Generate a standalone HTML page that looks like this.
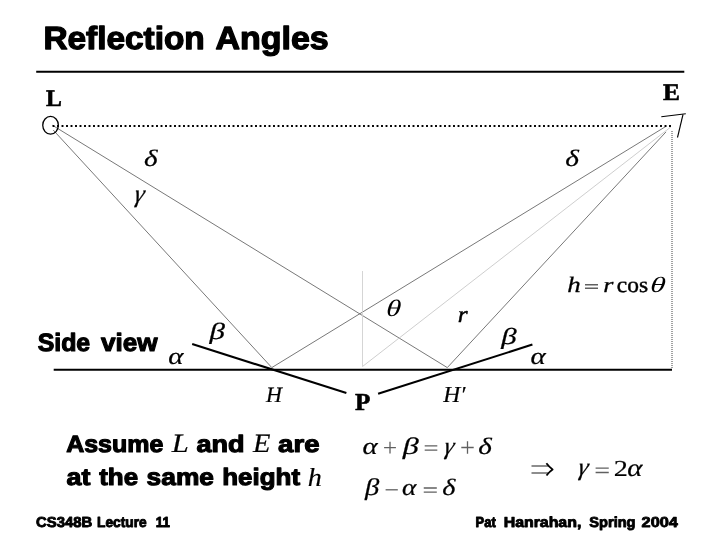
<!DOCTYPE html>
<html>
<head>
<meta charset="utf-8">
<title>Reflection Angles</title>
<style>
html,body{margin:0;padding:0;background:#fff;}
body{width:720px;height:540px;overflow:hidden;position:relative;font-family:"Liberation Sans",sans-serif;}
svg{position:absolute;left:0;top:0;display:block;filter:grayscale(1);}
text{white-space:pre;text-rendering:geometricPrecision;}
</style>
</head>
<body>
<svg width="720" height="540" viewBox="0 0 720 540">
<rect width="720" height="540" fill="#fff"/>

<!-- title -->
<text font-family="'Liberation Sans', sans-serif" font-weight="bold" font-size="100" fill="#000" stroke="#000" stroke-width="3.977" stroke-linejoin="round" transform="translate(43.42 49.35) scale(0.3337 0.3200)">Reflection</text>
<text font-family="'Liberation Sans', sans-serif" font-weight="bold" font-size="100" fill="#000" stroke="#000" stroke-width="3.941" stroke-linejoin="round" transform="translate(215.50 49.35) scale(0.3397 0.3200)">Angles</text>
<line x1="36.2" y1="71.7" x2="684.3" y2="71.7" stroke="#000" stroke-width="2"/>

<!-- thin construction lines -->
<g stroke="#606060" stroke-width="0.85" fill="none">
<line x1="53.2" y1="130" x2="271.8" y2="367.6"/>
<line x1="52.5" y1="125.3" x2="447.3" y2="367.6"/>
<line x1="666.4" y1="126.1" x2="271.8" y2="367.6"/>
<line x1="666" y1="131.9" x2="447.3" y2="367.6"/>
</g>
<g stroke="#c8c8c8" stroke-width="0.9" fill="none">
<line x1="362.5" y1="271" x2="362.5" y2="366.5" stroke="#d0d0d0"/>
<line x1="670.9" y1="126.9" x2="362.5" y2="366.5"/>
</g>

<!-- dotted lines -->
<line x1="52.55" y1="126" x2="671.2" y2="126" stroke="#000" stroke-width="1.9" stroke-dasharray="1.9 2.6"/>
<line x1="672" y1="131" x2="672" y2="369" stroke="#8a8a8a" stroke-width="1.6" stroke-dasharray="1 1"/>

<!-- light circle and eye -->
<ellipse cx="50.55" cy="125.3" rx="7.8" ry="8.85" fill="none" stroke="#000" stroke-width="1.3"/>
<g stroke="#000" stroke-width="1.1" fill="none">
<line x1="661.3" y1="116.7" x2="685.8" y2="113.8"/>
<line x1="683" y1="114.5" x2="677.5" y2="137.5"/>
</g>

<!-- base and mirror lines -->
<g stroke="#000" stroke-width="2.1" fill="none">
<line x1="53.7" y1="369.75" x2="672" y2="369.75"/>
<line x1="192.2" y1="344.1" x2="346.4" y2="393"/>
<line x1="378.1" y1="393.8" x2="532.4" y2="344.6"/>
</g>

<!-- point labels -->
<text font-family="'Liberation Serif', serif" font-weight="bold" font-size="100" fill="#000" stroke="#000" stroke-width="2.542" stroke-linejoin="round" transform="translate(45.90 105.80) scale(0.2369 0.2352)">L</text>
<text font-family="'Liberation Serif', serif" font-weight="bold" font-size="100" fill="#000" stroke="#000" stroke-width="2.453" stroke-linejoin="round" transform="translate(663.07 99.80) scale(0.2539 0.2352)">E</text>
<text font-family="'Liberation Serif', serif" font-weight="bold" font-size="100" fill="#000" stroke="#000" stroke-width="2.422" stroke-linejoin="round" transform="translate(355.07 409.50) scale(0.2511 0.2444)">P</text>
<!-- angle labels -->
<text font-family="'Liberation Serif', serif" font-style="italic" font-size="100" fill="#000" stroke="#000" stroke-width="0.948" stroke-linejoin="round" transform="translate(144.07 165.74) scale(0.2908 0.2364)">δ</text>
<text font-family="'Liberation Serif', serif" font-style="italic" font-size="100" fill="#000" stroke="#000" stroke-width="0.944" stroke-linejoin="round" transform="translate(565.17 165.74) scale(0.2930 0.2364)">δ</text>
<text font-family="'Liberation Serif', serif" font-style="italic" font-size="100" fill="#000" stroke="#000" stroke-width="1.004" stroke-linejoin="round" transform="translate(133.45 202.17) scale(0.2489 0.2493) skewX(-10.00)">γ</text>
<text font-family="'Liberation Serif', serif" font-style="italic" font-size="100" fill="#000" stroke="#000" stroke-width="0.924" stroke-linejoin="round" transform="translate(209.52 338.64) scale(0.3092 0.2317)">β</text>
<text font-family="'Liberation Serif', serif" font-style="italic" font-size="100" fill="#000" stroke="#000" stroke-width="0.928" stroke-linejoin="round" transform="translate(501.22 344.39) scale(0.3092 0.2296)">β</text>
<text font-family="'Liberation Serif', serif" font-style="italic" font-size="100" fill="#000" stroke="#000" stroke-width="0.947" stroke-linejoin="round" transform="translate(168.36 363.53) scale(0.2902 0.2376)">α</text>
<text font-family="'Liberation Serif', serif" font-style="italic" font-size="100" fill="#000" stroke="#000" stroke-width="0.947" stroke-linejoin="round" transform="translate(530.56 363.53) scale(0.2902 0.2376)">α</text>
<text font-family="'Liberation Serif', serif" font-style="italic" font-size="100" fill="#000" transform="translate(385.73 315.87) scale(0.3002 0.2355) skewX(-4.00)">θ</text>
<text font-family="'Liberation Serif', serif" font-style="italic" font-size="100" fill="#000" stroke="#000" stroke-width="2.064" stroke-linejoin="round" transform="translate(457.72 321.75) scale(0.2532 0.2313)">r</text>
<text font-family="'Liberation Serif', serif" font-style="italic" font-size="100" fill="#000" stroke="#000" stroke-width="0.907" stroke-linejoin="round" transform="translate(266.04 401.70) scale(0.2211 0.2199)">H</text>
<text font-family="'Liberation Serif', serif" font-style="italic" font-size="100" fill="#000" stroke="#000" stroke-width="0.861" stroke-linejoin="round" transform="translate(443.25 402.30) scale(0.2355 0.2291)">H′</text>
<!-- h = r cos theta -->
<text font-family="'Liberation Serif', serif" font-style="italic" font-size="100" fill="#000" stroke="#000" stroke-width="1.223" stroke-linejoin="round" transform="translate(567.17 291.75) scale(0.2699 0.2205)">h</text>
<path d="M585.00 284.70H598.00M585.00 288.30H598.00" stroke="#606060" stroke-width="1.40" fill="none"/>
<text font-family="'Liberation Serif', serif" font-style="italic" font-size="100" fill="#000" stroke="#000" stroke-width="1.260" stroke-linejoin="round" transform="translate(603.29 291.55) scale(0.2617 0.2144)">r</text>
<text font-family="'Liberation Serif', serif" font-size="100" fill="#000" stroke="#000" stroke-width="1.982" stroke-linejoin="round" transform="translate(616.83 291.96) scale(0.2347 0.2194)">cos</text>
<text font-family="'Liberation Serif', serif" font-style="italic" font-size="100" fill="#000" transform="translate(649.78 291.69) scale(0.3093 0.2200) skewX(-4.00)">θ</text>
<!-- side view -->
<text font-family="'Liberation Sans', sans-serif" font-weight="bold" font-size="100" fill="#000" stroke="#000" stroke-width="4.612" stroke-linejoin="round" transform="translate(37.66 351.43) scale(0.2487 0.2500)">Side</text>
<text font-family="'Liberation Sans', sans-serif" font-weight="bold" font-size="100" fill="#000" stroke="#000" stroke-width="4.500" stroke-linejoin="round" transform="translate(101.07 351.43) scale(0.2611 0.2500)">view</text>
<!-- assumption text -->
<text font-family="'Liberation Sans', sans-serif" font-weight="bold" font-size="100" fill="#000" stroke="#000" stroke-width="4.726" stroke-linejoin="round" transform="translate(66.15 451.82) scale(0.2496 0.2370)">Assume</text>
<text font-family="'Liberation Serif', serif" font-style="italic" font-size="100" fill="#000" stroke="#000" stroke-width="0.698" stroke-linejoin="round" transform="translate(171.66 452.30) scale(0.3074 0.2657)">L</text>
<text font-family="'Liberation Sans', sans-serif" font-weight="bold" font-size="100" fill="#000" stroke="#000" stroke-width="4.535" stroke-linejoin="round" transform="translate(196.48 451.82) scale(0.2701 0.2370)">and</text>
<text font-family="'Liberation Serif', serif" font-style="italic" font-size="100" fill="#000" stroke="#000" stroke-width="0.726" stroke-linejoin="round" transform="translate(252.93 452.30) scale(0.2853 0.2657)">E</text>
<text font-family="'Liberation Sans', sans-serif" font-weight="bold" font-size="100" fill="#000" stroke="#000" stroke-width="4.480" stroke-linejoin="round" transform="translate(278.07 451.82) scale(0.2764 0.2370)">are</text>
<text font-family="'Liberation Sans', sans-serif" font-weight="bold" font-size="100" fill="#000" stroke="#000" stroke-width="4.551" stroke-linejoin="round" transform="translate(66.59 484.73) scale(0.2684 0.2370)">at</text>
<text font-family="'Liberation Sans', sans-serif" font-weight="bold" font-size="100" fill="#000" stroke="#000" stroke-width="4.631" stroke-linejoin="round" transform="translate(99.16 484.73) scale(0.2597 0.2370)">the</text>
<text font-family="'Liberation Sans', sans-serif" font-weight="bold" font-size="100" fill="#000" stroke="#000" stroke-width="4.592" stroke-linejoin="round" transform="translate(146.55 484.73) scale(0.2638 0.2370)">same</text>
<text font-family="'Liberation Sans', sans-serif" font-weight="bold" font-size="100" fill="#000" stroke="#000" stroke-width="4.628" stroke-linejoin="round" transform="translate(222.16 484.73) scale(0.2600 0.2370)">height</text>
<text font-family="'Liberation Serif', serif" font-style="italic" font-size="100" fill="#000" stroke="#000" stroke-width="0.739" stroke-linejoin="round" transform="translate(307.68 485.50) scale(0.2817 0.2594)">h</text>
<!-- equations -->
<text font-family="'Liberation Serif', serif" font-style="italic" font-size="100" fill="#000" stroke="#000" stroke-width="0.951" stroke-linejoin="round" transform="translate(362.57 453.53) scale(0.2882 0.2376)">α</text>
<path d="M384.10 447.70H395.90M390.00 441.80V453.60" stroke="#606060" stroke-width="1.30" fill="none"/>
<text font-family="'Liberation Serif', serif" font-style="italic" font-size="100" fill="#000" stroke="#000" stroke-width="0.898" stroke-linejoin="round" transform="translate(402.84 453.95) scale(0.3209 0.2361)">β</text>
<path d="M424.70 445.90H437.30M424.70 450.20H437.30" stroke="#606060" stroke-width="1.30" fill="none"/>
<text font-family="'Liberation Serif', serif" font-style="italic" font-size="100" fill="#000" stroke="#000" stroke-width="1.013" stroke-linejoin="round" transform="translate(443.35 453.76) scale(0.2489 0.2448) skewX(-10.00)">γ</text>
<path d="M461.30 447.50H473.70M467.50 441.30V453.70" stroke="#606060" stroke-width="1.30" fill="none"/>
<text font-family="'Liberation Serif', serif" font-style="italic" font-size="100" fill="#000" stroke="#000" stroke-width="0.948" stroke-linejoin="round" transform="translate(478.17 453.84) scale(0.2908 0.2364)">δ</text>
<text font-family="'Liberation Serif', serif" font-style="italic" font-size="100" fill="#000" stroke="#000" stroke-width="0.952" stroke-linejoin="round" transform="translate(365.09 495.38) scale(0.2857 0.2394)">β</text>
<path d="M385.60 489.80H397.80" stroke="#606060" stroke-width="1.30" fill="none"/>
<text font-family="'Liberation Serif', serif" font-style="italic" font-size="100" fill="#000" stroke="#000" stroke-width="0.984" stroke-linejoin="round" transform="translate(402.01 495.33) scale(0.2726 0.2355)">α</text>
<path d="M423.75 488.00H436.80M423.75 492.20H436.80" stroke="#606060" stroke-width="1.30" fill="none"/>
<text font-family="'Liberation Serif', serif" font-style="italic" font-size="100" fill="#000" stroke="#000" stroke-width="0.970" stroke-linejoin="round" transform="translate(442.20 495.35) scale(0.2819 0.2336)">δ</text>
<!-- implies -->
<path d="M531.5 465.9H548.6M531.5 472.9H548.6" stroke="#686868" stroke-width="1.5" fill="none"/>
<path d="M546.4 463.3Q549.4 467.3 552.6 469.4Q549.4 471.5 546.5 475.5" stroke="#000" stroke-width="1.8" fill="none" stroke-linejoin="round"/>
<text font-family="'Liberation Serif', serif" font-style="italic" font-size="100" fill="#000" stroke="#000" stroke-width="1.004" stroke-linejoin="round" transform="translate(577.20 475.22) scale(0.2510 0.2471) skewX(-10.00)">γ</text>
<path d="M595.60 468.10H608.75M595.60 472.50H608.75" stroke="#606060" stroke-width="1.30" fill="none"/>
<text font-family="'Liberation Serif', serif" font-size="100" fill="#000" stroke="#000" stroke-width="0.586" stroke-linejoin="round" transform="translate(613.83 475.82) scale(0.2831 0.2288)">2</text>
<text font-family="'Liberation Serif', serif" font-style="italic" font-size="100" fill="#000" stroke="#000" stroke-width="0.934" stroke-linejoin="round" transform="translate(627.37 475.87) scale(0.2882 0.2469)">α</text>
<!-- footer -->
<text font-family="'Liberation Sans', sans-serif" font-weight="bold" font-size="100" fill="#000" stroke="#000" stroke-width="6.133" stroke-linejoin="round" transform="translate(36.09 526.55) scale(0.1485 0.1450)">CS348B</text>
<text font-family="'Liberation Sans', sans-serif" font-weight="bold" font-size="100" fill="#000" stroke="#000" stroke-width="6.367" stroke-linejoin="round" transform="translate(97.03 526.55) scale(0.1377 0.1450)">Lecture</text>
<text font-family="'Liberation Sans', sans-serif" font-weight="bold" font-size="100" fill="#000" stroke="#000" stroke-width="6.472" stroke-linejoin="round" transform="translate(155.86 526.55) scale(0.1331 0.1450)">11</text>
<text font-family="'Liberation Sans', sans-serif" font-weight="bold" font-size="100" fill="#000" stroke="#000" stroke-width="6.562" stroke-linejoin="round" transform="translate(475.58 526.75) scale(0.1293 0.1450)">Pat</text>
<text font-family="'Liberation Sans', sans-serif" font-weight="bold" font-size="100" fill="#000" stroke="#000" stroke-width="5.926" stroke-linejoin="round" transform="translate(503.69 526.75) scale(0.1587 0.1450)">Hanrahan,</text>
<text font-family="'Liberation Sans', sans-serif" font-weight="bold" font-size="100" fill="#000" stroke="#000" stroke-width="6.188" stroke-linejoin="round" transform="translate(589.33 526.75) scale(0.1459 0.1450)">Spring</text>
<text font-family="'Liberation Sans', sans-serif" font-weight="bold" font-size="100" fill="#000" stroke="#000" stroke-width="5.836" stroke-linejoin="round" transform="translate(641.58 526.75) scale(0.1634 0.1450)">2004</text>
</svg>
</body>
</html>
